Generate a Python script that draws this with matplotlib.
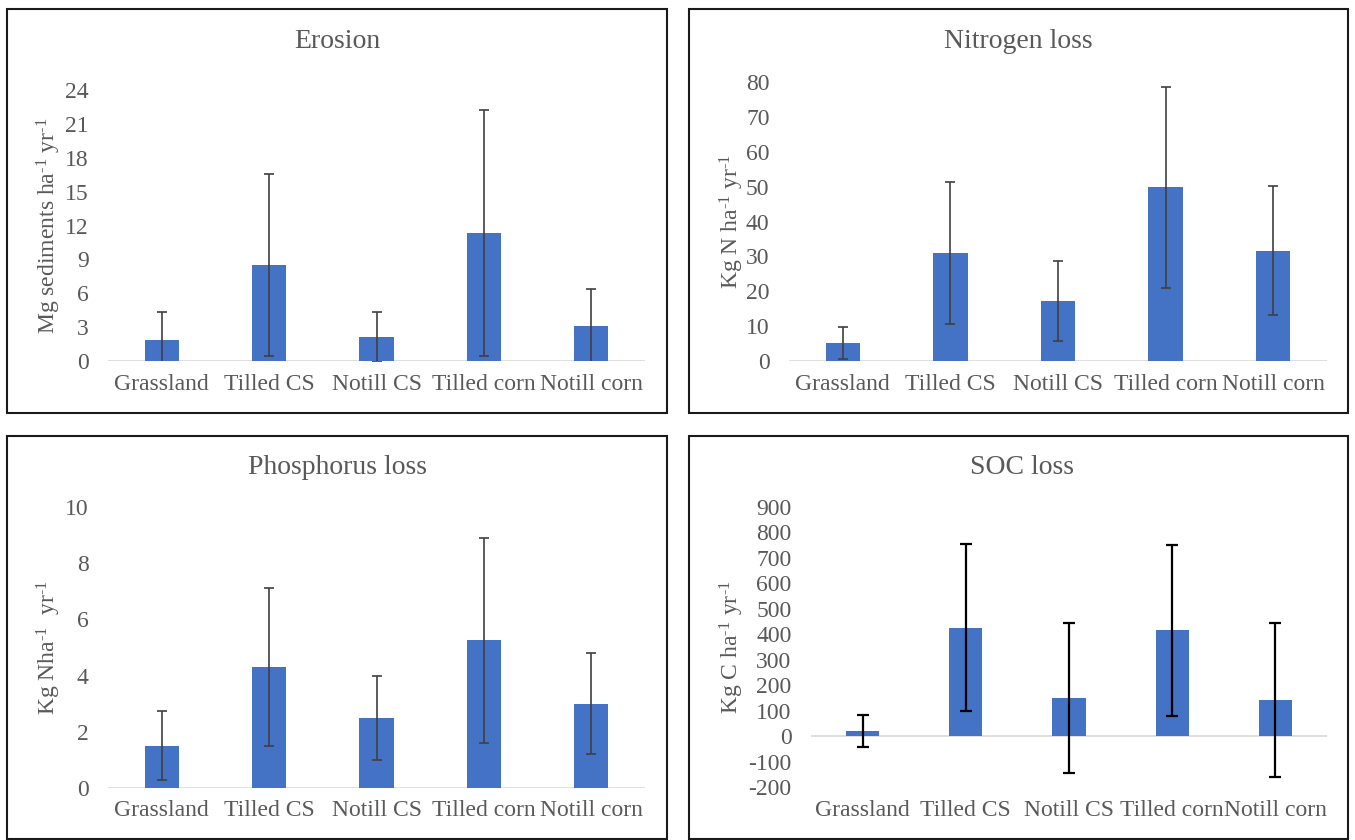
import matplotlib
matplotlib.use('Agg')
import matplotlib.pyplot as plt
from matplotlib.patches import Rectangle

# data
categories = ['Grassland', 'Tilled CS', 'Notill CS', 'Tilled corn', 'Notill corn']

erosion = [1.9, 8.5, 2.1, 11.3, 3.1]
erosion_err = [2.4, 8.1, 2.2, 10.9, 3.3]

nitrogen = [5.2, 31.0, 17.1, 49.8, 31.6]
nitrogen_err = [4.5, 20.3, 11.5, 28.8, 18.5]

phosphorus = [1.5, 4.3, 2.5, 5.25, 3.0]
phosphorus_err = [1.23, 2.8, 1.5, 3.65, 1.8]

soc = [20, 425, 150, 415, 142]
soc_err = [62, 328, 294, 335, 304]

BAR = '#4472C4'
TXT = '#595959'
AXIS = '#D9D9D9'
W, H = 1355, 840

plt.rcParams['font.family'] = ['Liberation Serif', 'DejaVu Serif']
plt.rcParams['mathtext.fontset'] = 'custom'
plt.rcParams['mathtext.rm'] = 'Liberation Serif'
plt.rcParams['mathtext.it'] = 'Liberation Serif:italic'
plt.rcParams['axes.unicode_minus'] = False

SUP = r'$^{\text{-}1}$'

fig = plt.figure(figsize=(W / 100, H / 100), dpi=100)


def px_box(x0, y0, x1, y1):
    # pixel box (top-left origin) -> figure fraction [left, bottom, width, height]
    return [x0 / W, (H - y1) / H, (x1 - x0) / W, (y1 - y0) / H]


def panel(frame, box, title, title_xy, vals, errs, ylim, yticks, ylabel, label_x,
          err_color='#404040', err_lw=1.2, capsize=3.5):
    # chart border
    fx0, fy0, fx1, fy1 = frame
    fig.patches.append(Rectangle((fx0 / W, (H - fy1) / H), (fx1 - fx0) / W, (fy1 - fy0) / H,
                                 transform=fig.transFigure, fill=False,
                                 edgecolor='#1a1a1a', linewidth=1.5))
    fig.text(title_xy[0] / W, 1 - title_xy[1] / H, title, ha='center', va='center',
             fontsize=20, color=TXT)

    ax = fig.add_axes(px_box(*box))
    x = range(len(categories))
    ax.bar(x, vals, width=0.32, color=BAR, zorder=2)
    ax.errorbar(x, vals, yerr=errs, fmt='none', ecolor=err_color, elinewidth=err_lw,
                capsize=capsize, capthick=err_lw, zorder=3)
    ax.axhline(0, color=AXIS, linewidth=1.2, zorder=1)

    ax.set_xlim(-0.5, len(categories) - 0.5)
    ax.set_ylim(*ylim)
    ax.set_yticks(yticks)
    ax.set_xticks(list(x))
    ax.set_xticklabels(categories)
    for s in ax.spines.values():
        s.set_visible(False)
    ax.tick_params(axis='both', length=0, labelsize=17, labelcolor=TXT)
    ax.tick_params(axis='y', pad=14)
    ax.tick_params(axis='x', pad=9)
    ax.set_ylabel(ylabel, fontsize=17, color=TXT)
    ax.yaxis.set_label_coords(label_x, 0.5)
    return ax


panel((7, 9, 667, 413), (108, 90, 645, 361), 'Erosion', (337, 42),
      erosion, erosion_err, (0, 24), range(0, 25, 3),
      'Mg sediments ha' + SUP + ' yr' + SUP, -0.083)

panel((689, 9, 1348, 413), (789, 82, 1327, 361), 'Nitrogen loss', (1018, 42),
      nitrogen, nitrogen_err, (0, 80), range(0, 81, 10),
      'Kg N ha' + SUP + ' yr' + SUP, -0.079)

panel((7, 436, 667, 839), (108, 507, 645, 788), 'Phosphorus loss', (337, 468),
      phosphorus, phosphorus_err, (0, 10), range(0, 11, 2),
      'Kg Nha' + SUP + '  yr' + SUP, -0.083)

panel((689, 436, 1348, 839), (811, 507, 1327, 787), 'SOC loss', (1022, 468),
      soc, soc_err, (-200, 900), range(-200, 901, 100),
      'Kg C ha' + SUP + ' yr' + SUP, -0.126,
      err_color='black', err_lw=1.6, capsize=4.5)

fig.savefig('out.png', dpi=100)
